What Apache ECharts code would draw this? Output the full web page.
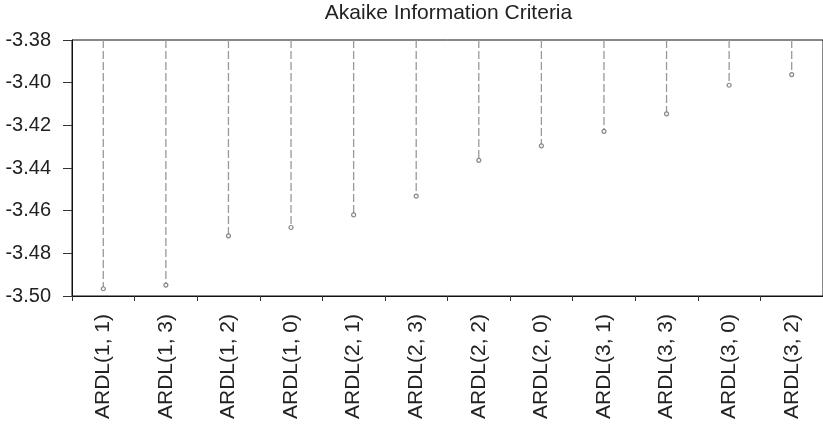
<!DOCTYPE html>
<html>
<head>
<meta charset="utf-8">
<script src="https://cdn.jsdelivr.net/npm/echarts@6/dist/echarts.min.js"></script>
<style>
  html, body { margin: 0; padding: 0; background: #fff; }
  #chart { width: 823px; height: 426px; }
</style>
</head>
<body>
<div id="chart"></div>
<script>
// Candidate ARDL lag orders, sorted by criterion value
const models = ['ARDL(1, 1)', 'ARDL(1, 3)', 'ARDL(1, 2)', 'ARDL(1, 0)', 'ARDL(2, 1)', 'ARDL(2, 3)',
                'ARDL(2, 2)', 'ARDL(2, 0)', 'ARDL(3, 1)', 'ARDL(3, 3)', 'ARDL(3, 0)', 'ARDL(3, 2)'];
// Akaike information criterion for each model
const aic = [-3.4966, -3.4949, -3.4718, -3.4679, -3.4620, -3.4532,
             -3.4364, -3.4296, -3.4228, -3.4146, -3.4012, -3.3962];
// Value axis range and ticks
const yMin = -3.50;
const yMax = -3.38;
const yStep = 0.02;

const font = 'Arial, "Liberation Sans", sans-serif';
const chart = echarts.init(document.getElementById('chart'), null, { renderer: 'canvas' });

chart.setOption({
  animation: false,
  title: {
    text: 'Akaike Information Criteria',
    left: 448.5,
    textAlign: 'center',
    top: 3,
    padding: 0,
    textStyle: { fontFamily: font, fontSize: 21, fontWeight: 'normal', color: '#222' }
  },
  grid: {
    left: 72, top: 40, right: -2, bottom: 130,
    show: true, borderColor: '#111', borderWidth: 1, backgroundColor: 'transparent'
  },
  xAxis: {
    type: 'category',
    data: models,
    boundaryGap: true,
    axisLine: { lineStyle: { color: '#111', width: 1 } },
    axisTick: { show: true, alignWithLabel: false, length: 5, lineStyle: { color: '#333' } },
    axisLabel: {
      rotate: 90, margin: 18, interval: 0,
      fontFamily: font, fontSize: 21, color: '#222'
    },
    splitLine: { show: false }
  },
  yAxis: {
    type: 'value',
    min: yMin, max: yMax, interval: yStep,
    axisLine: { show: true, lineStyle: { color: '#111', width: 1 } },
    axisTick: { show: true, length: 9, lineStyle: { color: '#333' } },
    axisLabel: {
      margin: 21, fontFamily: font, fontSize: 20, color: '#222',
      formatter: v => v.toFixed(2)
    },
    splitLine: { show: false }
  },
  series: [
    {
      // dashed stems hanging from the top of the plot down to each value
      type: 'custom',
      data: aic.map((v, i) => [i, v]),
      renderItem: function (params, api) {
        const top = api.coord([api.value(0), yMax]);
        const end = api.coord([api.value(0), api.value(1)]);
        return {
          type: 'line',
          shape: { x1: top[0], y1: top[1], x2: end[0], y2: end[1] },
          style: { stroke: '#999', lineWidth: 1.3, lineDash: [8, 3] }
        };
      },
      silent: true,
      z: 2
    },
    {
      type: 'scatter',
      data: aic,
      symbol: 'circle',
      symbolSize: 4,
      itemStyle: { color: '#fff', borderColor: '#666', borderWidth: 1.2 },
      silent: true,
      z: 3
    }
  ]
});
</script>
</body>
</html>
